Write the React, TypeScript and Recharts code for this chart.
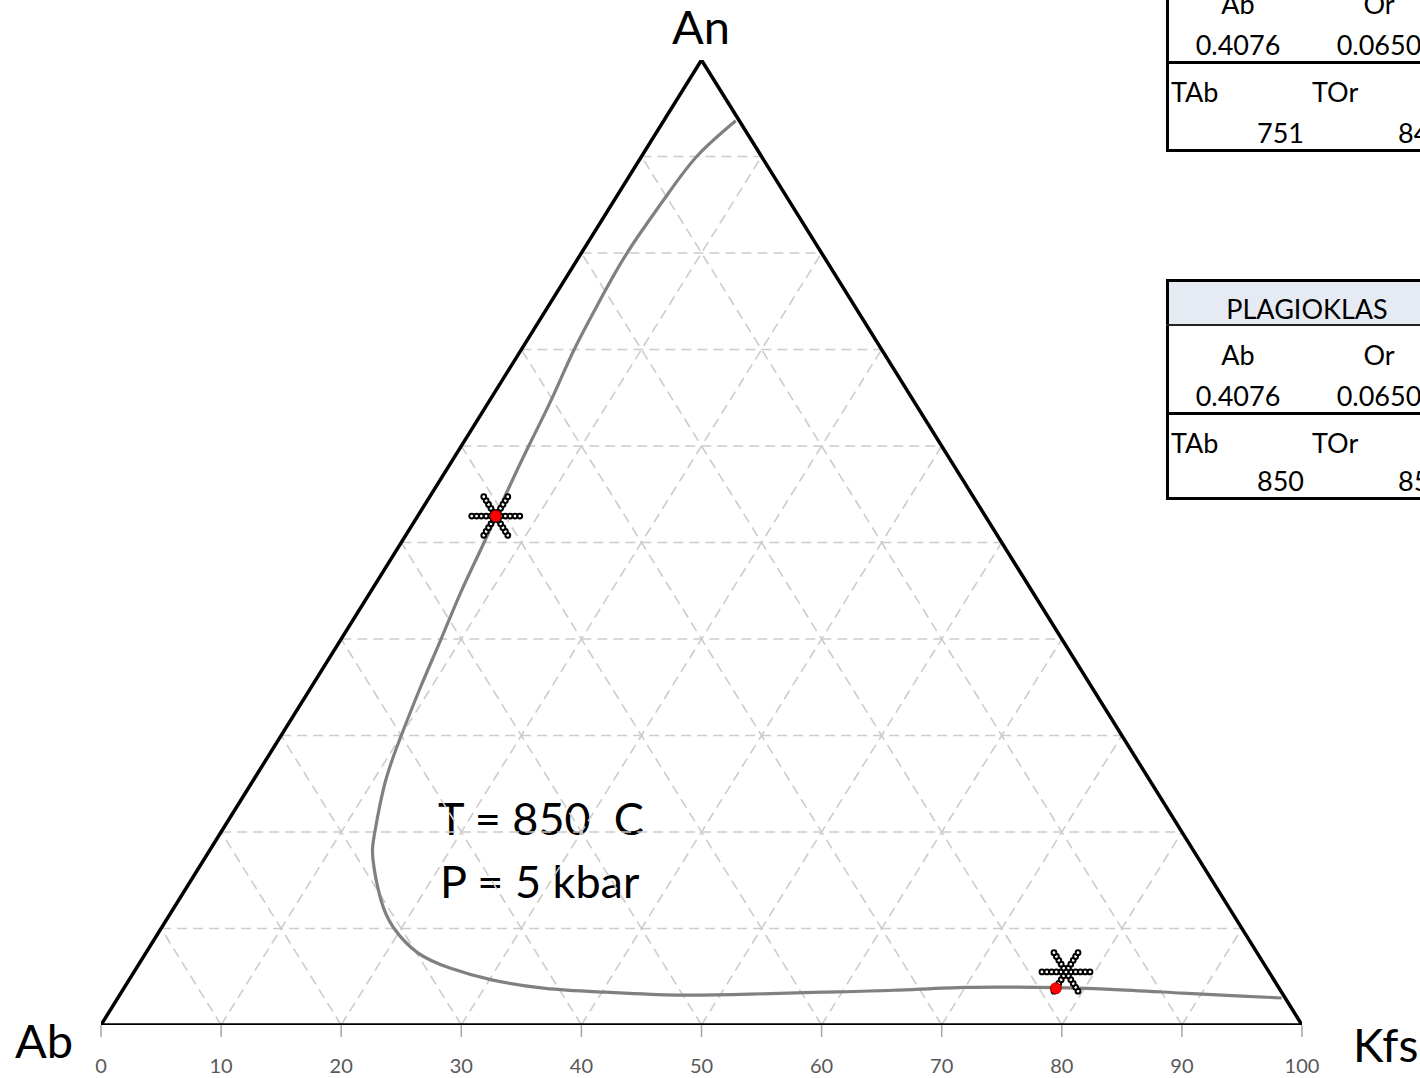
import React from 'react';
import { ComposedChart, Line, Scatter, XAxis, YAxis, ReferenceLine } from 'recharts';

// ternary compositions are given as (Or %, An %); Ab is the rest
const AXIS_TICKS = [0, 10, 20, 30, 40, 50, 60, 70, 80, 90, 100];
const GRID_STEPS = [10, 20, 30, 40, 50, 60, 70, 80, 90];

const TRIANGLE_OR = [0, 0, 100, 0];
const TRIANGLE_AN = [0, 100, 0, 0];

const CURVE_OR = [6.0, 4.6, 4.1, 3.8, 4.0, 4.4, 5.1, 5.6, 6.2, 6.9, 7.5, 8.3, 9.1, 10.0, 11.1, 12.8, 14.1, 16.8, 19.3, 22.6, 26.1, 30.1, 35.1, 40.3, 46.4, 52.4, 58.3, 64.2, 70.1, 76.0, 82.2, 88.4, 93.5, 96.9];
const CURVE_AN = [93.7, 90.0, 85.5, 80.1, 75.1, 70.0, 64.8, 60.1, 55.1, 50.0, 45.1, 40.1, 35.0, 30.0, 25.1, 20.0, 17.1, 13.0, 10.1, 7.5, 5.9, 4.7, 3.8, 3.4, 3.1, 3.2, 3.4, 3.6, 3.9, 3.9, 3.7, 3.3, 3.0, 2.8];

const STAR_OR = [6.5, 77.6];
const STAR_AN = [52.74, 5.5];
const STAR_STEPS = [-2, -1.6, -1.2, -0.8, -0.4, 0, 0.4, 0.8, 1.2, 1.6, 2];
// directions: constant An, constant Or, constant Ab
const STAR_DIRS = [[1, 0], [0, 1], [-1, 1]];

const SAMPLE_OR = [6.5, 77.6];
const SAMPLE_AN = [52.74, 3.8];

const TABLE_TITLES = ['ALKALIFELDSPAT', 'PLAGIOKLAS'];
const TABLE_NAMES = ['Ab', 'Or', 'An'];
const TABLE_VALUES = [['0.4076', '0.0650', '0.5274'], ['0.4076', '0.0650', '0.5274']];
const TABLE_TNAMES = ['TAb', 'TOr', 'TAn'];
const TABLE_TVALUES = [['751', '845', '850'], ['850', '850', '850']];
const TABLE_TOPS = [-71, 280];
const TABLE_HEIGHTS = [224, 221];

const FONT = 'Lato, "Open Sans", sans-serif';

const toXY = (or: number, an: number) => ({ x: or + an / 2, y: an });

const triangle = TRIANGLE_OR.map((o, i) => toXY(o, TRIANGLE_AN[i]));
const curve = CURVE_OR.map((o, i) => toXY(o, CURVE_AN[i]));
const starPoints = STAR_OR.flatMap((co, s) =>
  STAR_DIRS.flatMap(([dOr, dAn]) =>
    STAR_STEPS.map((t) => toXY(co + dOr * t, STAR_AN[s] + dAn * t))
  )
);
const samples = SAMPLE_OR.map((o, i) => toXY(o, SAMPLE_AN[i]));

const SmallRing = (props: any) => (
  <circle cx={props.cx} cy={props.cy} r={2.4} fill="#fff" stroke="#000" strokeWidth={2} />
);
const RedDot = (props: any) => (
  <circle cx={props.cx} cy={props.cy} r={5.5} fill="#ff0000" stroke="#b00000" strokeWidth={1} />
);

const cellText = (text: string, left: number, cy: number, align: 'center' | 'left' | 'right', size = 27) => {
  const w = 180;
  const l = align === 'center' ? left - w / 2 : align === 'right' ? left - w : left;
  return (
    <div
      key={text + left + cy}
      style={{
        position: 'absolute', left: l, top: cy - size / 2, width: w, height: size,
        lineHeight: `${size}px`, fontSize: size, textAlign: align, whiteSpace: 'nowrap',
        color: '#000', fontFamily: FONT,
      }}
    >
      {text}
    </div>
  );
};

const ResultTable = ({ idx }: { idx: number }) => {
  const top = TABLE_TOPS[idx];
  const h = TABLE_HEIGHTS[idx];
  const L = 1166;
  const colW = 141;
  return (
    <div style={{ position: 'absolute', left: 0, top: 0, width: 1420, height: 1078, pointerEvents: 'none' }}>
      <div style={{ position: 'absolute', left: L, top, width: 440, height: 45, background: '#e6ebf3' }} />
      <div style={{ position: 'absolute', left: L, top: top - 1, width: 440, height: h, borderTop: '3px solid #000', borderLeft: '3px solid #000', borderBottom: '3px solid #000', boxSizing: 'border-box' }} />
      <div style={{ position: 'absolute', left: L, top: top + 44, width: 440, height: 2, background: '#222' }} />
      <div style={{ position: 'absolute', left: L, top: top + 132, width: 440, height: 3, background: '#000' }} />
      {cellText(TABLE_TITLES[idx], L + colW, top + 28, 'center')}
      {TABLE_NAMES.map((n, i) => cellText(n, L + colW * i + 72, top + 74, 'center'))}
      {TABLE_VALUES[idx].map((v, i) => cellText(v, L + colW * i + 72, top + 115, 'center'))}
      {TABLE_TNAMES.map((n, i) => cellText(n, L + colW * i + 5, top + 162, 'left'))}
      {TABLE_TVALUES[idx].map((v, i) => cellText(v, L + colW * (i + 1) - 3, top + h - 21, 'right'))}
    </div>
  );
};

export default function App() {
  return (
    <div style={{ position: 'absolute', left: 0, top: 0, width: 1420, height: 1078, overflow: 'hidden', background: '#fff' }}>
      <ComposedChart width={1420} height={1078} margin={{ top: 60, right: 118, bottom: 23, left: 101 }}>
        <XAxis
          type="number"
          dataKey="x"
          domain={[0, 100]}
          ticks={AXIS_TICKS}
          allowDataOverflow
          axisLine={false}
          tickLine={{ stroke: '#a6a6a6', strokeWidth: 1.5 }}
          tickSize={12}
          tickMargin={22}
          height={30}
          interval={0}
          tick={{ fill: '#595959', fontSize: 20, fontFamily: FONT }}
        />
        <YAxis type="number" dataKey="y" domain={[0, 100]} allowDataOverflow hide />

        {GRID_STEPS.map((k) => (
          <ReferenceLine key={`h${k}`} segment={[toXY(0, k), toXY(100 - k, k)]} stroke="#cccccc" strokeWidth={1.6} strokeDasharray="10 6" ifOverflow="visible" />
        ))}
        {GRID_STEPS.map((k) => (
          <ReferenceLine key={`o${k}`} segment={[toXY(k, 0), toXY(k, 100 - k)]} stroke="#cccccc" strokeWidth={1.6} strokeDasharray="10 6" ifOverflow="visible" />
        ))}
        {GRID_STEPS.map((k) => (
          <ReferenceLine key={`a${k}`} segment={[toXY(100 - k, 0), toXY(0, 100 - k)]} stroke="#cccccc" strokeWidth={1.6} strokeDasharray="10 6" ifOverflow="visible" />
        ))}

        <Line data={triangle} dataKey="y" type="linear" stroke="#000" strokeWidth={3.5} dot={false} isAnimationActive={false} legendType="none" />
        <Line data={curve} dataKey="y" type="natural" stroke="#808080" strokeWidth={3.2} dot={false} isAnimationActive={false} legendType="none" />
        <Scatter data={starPoints} shape={SmallRing} isAnimationActive={false} legendType="none" />
        <Scatter data={samples} shape={RedDot} isAnimationActive={false} legendType="none" />

        <text x={701} y={44} textAnchor="middle" fontSize={47} fontFamily={FONT} fill="#000">An</text>
        <text x={15} y={1058} textAnchor="start" fontSize={47} fontFamily={FONT} fill="#000">Ab</text>
        <text x={1353} y={1062} textAnchor="start" fontSize={46} fontFamily={FONT} fill="#000">Kfs</text>
        <text x={438} y={835} fontSize={45} fontFamily={FONT} fill="#000" style={{ whiteSpace: 'pre' }}>T = 850  C</text>
        <text x={440} y={898} fontSize={45} fontFamily={FONT} fill="#000" style={{ whiteSpace: 'pre' }}>P = 5 kbar</text>
      </ComposedChart>
      <ResultTable idx={0} />
      <ResultTable idx={1} />
    </div>
  );
}
